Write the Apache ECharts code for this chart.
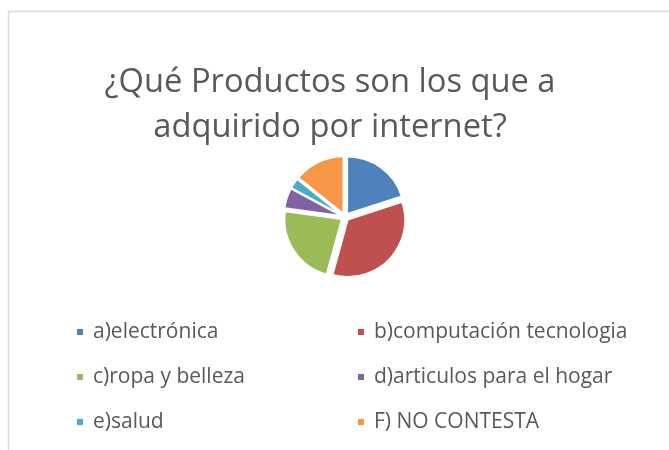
<!DOCTYPE html>
<html>
<head>
<meta charset="utf-8">
<script src="https://cdn.jsdelivr.net/npm/echarts@6/dist/echarts.min.js"></script>
<style>
    html, body { margin: 0; padding: 0; background: #fff; }
    #chart { width: 669px; height: 450px; }
</style>
</head>
<body>
<div id="chart"></div>
<script>
    // datos
    var categorias = ['a)electrónica', 'b)computación tecnologia', 'c)ropa y belleza',
        'd)articulos para el hogar', 'e)salud', 'F) NO CONTESTA'];
    var valores = [7, 12, 8, 2, 1, 5];
    var colores = ['#4f81bd', '#c0504d', '#9bbb59', '#8064a2', '#4bacc6', '#f79646'];

    var fuente = '"Open Sans", sans-serif';

    var datos = categorias.map(function (c, i) {
        return { name: c, value: valores[i], selected: true };
    });

    var legendaBase = {
        orient: 'vertical',
        top: 316,
        icon: 'rect',
        itemWidth: 8,
        itemHeight: 8,
        itemGap: 23,
        selectedMode: false,
        textStyle: {
            fontFamily: fuente,
            fontSize: 21,
            color: '#595959',
            lineHeight: 22,
            padding: [0, 0, 0, 4]
        }
    };

    var option = {
        color: colores,
        animation: false,
        title: {
            text: '¿Qué Productos son los que a\nadquirido por internet?',
            left: 325,
            top: 55,
            textAlign: 'center',
            textStyle: {
                fontFamily: fuente,
                fontSize: 32.7,
                fontWeight: 'normal',
                color: '#595959',
                lineHeight: 45
            }
        },
        legend: [
            Object.assign({}, legendaBase, { left: 70, data: [categorias[0], categorias[2], categorias[4]] }),
            Object.assign({}, legendaBase, { left: 351, data: [categorias[1], categorias[3], categorias[5]] })
        ],
        graphic: [{
            type: 'rect',
            shape: { x: 8.5, y: 11.5, width: 700, height: 500 },
            style: { fill: 'none', stroke: '#d9d9d9', lineWidth: 1.5 },
            silent: true
        }],
        series: [{
            type: 'pie',
            center: [345, 217],
            radius: 57,
            startAngle: 90,
            selectedMode: 'multiple',
            selectedOffset: 4,
            label: { show: false },
            labelLine: { show: false },
            emphasis: { disabled: true },
            itemStyle: { borderColor: '#fff', borderWidth: 1.5 },
            data: datos
        }]
    };

    echarts.init(document.getElementById('chart')).setOption(option);
</script>
</body>
</html>
